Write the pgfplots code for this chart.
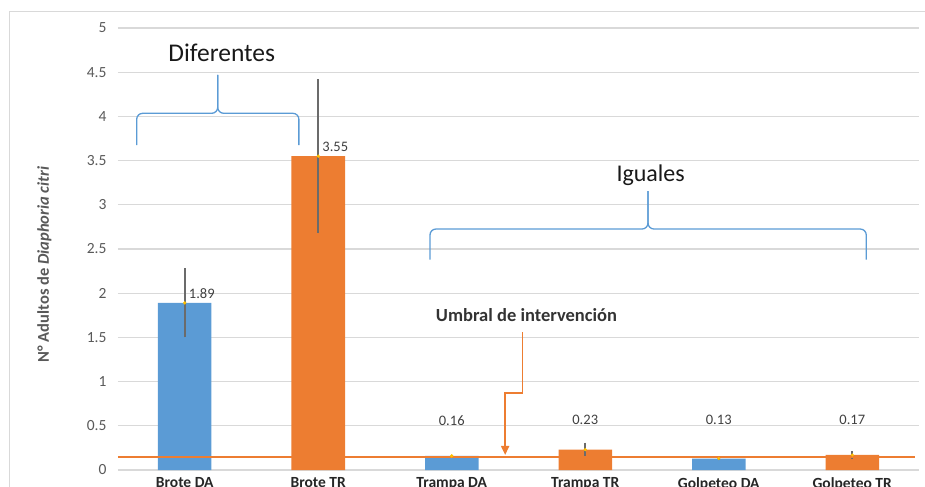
\documentclass[border=0pt]{standalone}
\usepackage{pgfplots}
\pgfplotsset{compat=1.18}
\usepackage{fontspec}
\setmainfont{Carlito}
\usetikzlibrary{arrows.meta}
\definecolor{barblue}{HTML}{5B9BD5}
\definecolor{barorange}{HTML}{ED7D31}
\definecolor{gridgray}{HTML}{D9D9D9}
\definecolor{ticktext}{HTML}{595959}
\definecolor{labtext}{HTML}{404040}
\definecolor{braceblue}{HTML}{5B9BD5}
\definecolor{markyellow}{HTML}{FFC000}
\begin{document}
\begin{tikzpicture}
\path[use as bounding box] (-118bp,-17bp) rectangle (807bp,470bp);
\draw[gridgray, line width=1bp] (-108bp,-40bp) rectangle (840bp,458bp);
\begin{axis}[
  at={(0,0)}, anchor=south west,
  scale only axis, width=801bp, height=442bp,
  xmin=-0.5, xmax=5.5, ymin=0, ymax=5,
  ytick={0,0.5,1,1.5,2,2.5,3,3.5,4,4.5,5},
  xtick={0,1,2,3,4,5},
  xticklabels={Brote DA,Brote TR,Trampa DA,Trampa TR,Golpeteo DA,Golpeteo TR},
  ymajorgrids, grid style={draw=gridgray, line width=1.2bp},
  axis line style={draw=none},
  major tick length=0pt,
  clip=false,
  /pgf/number format/assume math mode=true,
  yticklabel style={font=\fontsize{15.5bp}{17bp}\selectfont, text=ticktext, xshift=-8bp},
  xticklabel style={font=\fontsize{15.5bp}{17bp}\selectfont\bfseries, text=black!85, anchor=north, yshift=-4bp},
  ylabel={N° Adultos de \textit{Diaphoria citri}},
  ylabel style={font=\fontsize{16.5bp}{18bp}\selectfont\bfseries, text=ticktext, at={(axis description cs:-0.092,0.465)}, anchor=center},
]
\addplot[ybar, bar width=53.5bp, bar shift=0pt, fill=barblue, draw=none,
  error bars/.cd, y dir=both, y explicit, error mark=none,
  error bar style={line width=1.6bp, black!58}]
  coordinates {(0,1.89) +- (0,0.39) (2,0.16) +- (0,0.01) (4,0.13) +- (0,0.02)};
\addplot[ybar, bar width=53.5bp, bar shift=0pt, fill=barorange, draw=none,
  error bars/.cd, y dir=both, y explicit, error mark=none,
  error bar style={line width=1.6bp, black!58}]
  coordinates {(1,3.55) +- (0,0.87) (3,0.23) +- (0,0.08) (5,0.17) +- (0,0.04)};
\addplot[only marks, mark=*, mark size=1.4bp, color=markyellow] coordinates {(0,1.89) (1,3.55) (2,0.16) (3,0.23) (4,0.13) (5,0.17)};
\addplot[barorange, line width=1.8bp] coordinates {(-0.5,0.15) (5.47,0.15)};
% data labels
\node[anchor=west, inner sep=0pt, text=labtext, font=\fontsize{14.5bp}{16bp}\selectfont] at (axis cs:0.03,2.0) {1.89};
\node[anchor=west, inner sep=0pt, text=labtext, font=\fontsize{14.5bp}{16bp}\selectfont] at (axis cs:1.03,3.65) {3.55};
\node[inner sep=0pt, text=labtext, font=\fontsize{14.5bp}{16bp}\selectfont] at (axis cs:2,0.56) {0.16};
\node[inner sep=0pt, text=labtext, font=\fontsize{14.5bp}{16bp}\selectfont] at (axis cs:3,0.57) {0.23};
\node[inner sep=0pt, text=labtext, font=\fontsize{14.5bp}{16bp}\selectfont] at (axis cs:4,0.57) {0.13};
\node[inner sep=0pt, text=labtext, font=\fontsize{14.5bp}{16bp}\selectfont] at (axis cs:5,0.57) {0.17};
% braces
\draw[braceblue, line width=1.3bp, rounded corners=6bp] (axis cs:-0.36,3.676) -- (axis cs:-0.36,4.035) -- (axis cs:0.247,4.035) -- (axis cs:0.247,4.47);
\draw[braceblue, line width=1.3bp, rounded corners=6bp] (axis cs:0.855,3.676) -- (axis cs:0.855,4.035) -- (axis cs:0.247,4.035) -- (axis cs:0.247,4.47);
\draw[braceblue, line width=1.3bp, rounded corners=6bp] (axis cs:1.837,2.38) -- (axis cs:1.837,2.726) -- (axis cs:3.47,2.726) -- (axis cs:3.47,3.156);
\draw[braceblue, line width=1.3bp, rounded corners=6bp] (axis cs:5.105,2.38) -- (axis cs:5.105,2.726) -- (axis cs:3.47,2.726) -- (axis cs:3.47,3.156);
\node[font=\fontsize{25.5bp}{28bp}\selectfont, text=black!90] at (axis cs:0.277,4.72) {Diferentes};
\node[font=\fontsize{24bp}{27bp}\selectfont, text=black!90] at (axis cs:3.49,3.34) {Iguales};
% threshold annotation
\node[font=\fontsize{18.5bp}{20bp}\selectfont\bfseries, text=black!80] at (axis cs:2.56,1.75) {Umbral de intervención};
\draw[barorange, line width=1.8bp, -{Triangle[length=9bp,width=8bp]}] (axis cs:2.53,1.56) -- (axis cs:2.53,0.87) -- (axis cs:2.40,0.87) -- (axis cs:2.40,0.17);
\end{axis}
\end{tikzpicture}
\end{document}
